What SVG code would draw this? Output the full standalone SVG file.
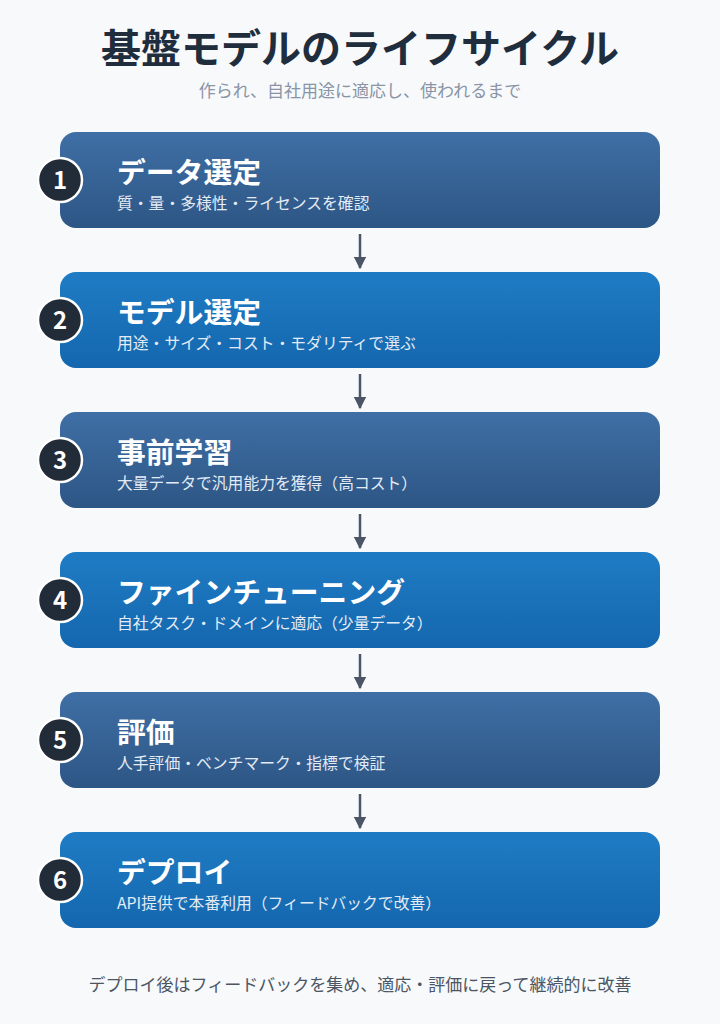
<svg xmlns="http://www.w3.org/2000/svg" width="720" height="1024" viewBox="0 0 720 1024">
<defs>
<linearGradient id="gA" x1="0" y1="0" x2="0" y2="1"><stop offset="0" stop-color="#3f6fa5"/><stop offset="1" stop-color="#2d5685"/></linearGradient>
<linearGradient id="gB" x1="0" y1="0" x2="0" y2="1"><stop offset="0" stop-color="#1f7cc4"/><stop offset="1" stop-color="#1467ae"/></linearGradient>
<marker id="ah" viewBox="0 0 10 10" refX="9" refY="5" markerWidth="5" markerHeight="5" orient="auto"><path d="M0,0 L10,5 L0,10 z" fill="#4a5568"/></marker>
</defs>
<style>
text{font-family:"Noto Sans CJK JP","Noto Sans",sans-serif}
.t{font-size:28.8px;font-weight:bold;fill:#fff}
.s{font-size:15.8px;fill:#e3ebf5}
.n{font-size:24px;font-weight:bold;fill:#fff;text-anchor:middle}
.c{fill:#222b38;stroke:#fff;stroke-width:2.5}
.a{stroke:#4a5568;stroke-width:2.5;fill:none;marker-end:url(#ah)}
</style>
<rect width="720" height="1024" fill="#f7f9fb"/>
<text x="360" y="63" text-anchor="middle" font-size="40" font-weight="bold" fill="#1f2d3d">基盤モデルのライフサイクル</text>
<text x="360" y="97" text-anchor="middle" font-size="17" fill="#8a94a6">作られ、自社用途に適応し、使われるまで</text>
<g id="connectors">
<path class="a" d="M360,234 V268"/><path class="a" d="M360,374 V408"/><path class="a" d="M360,514 V548"/><path class="a" d="M360,654 V688"/><path class="a" d="M360,794 V828"/>
</g>
<g id="n1"><rect x="60" y="132" width="600" height="96" rx="16" fill="url(#gA)"/><circle class="c" cx="60" cy="180" r="22"/><text class="n" x="60" y="189">1</text><text class="t" x="117" y="183">データ選定</text><text class="s" x="117" y="209">質・量・多様性・ライセンスを確認</text></g>
<g id="n2"><rect x="60" y="272" width="600" height="96" rx="16" fill="url(#gB)"/><circle class="c" cx="60" cy="320" r="22"/><text class="n" x="60" y="329">2</text><text class="t" x="117" y="323">モデル選定</text><text class="s" x="117" y="349">用途・サイズ・コスト・モダリティで選ぶ</text></g>
<g id="n3"><rect x="60" y="412" width="600" height="96" rx="16" fill="url(#gA)"/><circle class="c" cx="60" cy="460" r="22"/><text class="n" x="60" y="469">3</text><text class="t" x="117" y="463">事前学習</text><text class="s" x="117" y="489">大量データで汎用能力を獲得（高コスト）</text></g>
<g id="n4"><rect x="60" y="552" width="600" height="96" rx="16" fill="url(#gB)"/><circle class="c" cx="60" cy="600" r="22"/><text class="n" x="60" y="609">4</text><text class="t" x="117" y="603">ファインチューニング</text><text class="s" x="117" y="629">自社タスク・ドメインに適応（少量データ）</text></g>
<g id="n5"><rect x="60" y="692" width="600" height="96" rx="16" fill="url(#gA)"/><circle class="c" cx="60" cy="740" r="22"/><text class="n" x="60" y="749">5</text><text class="t" x="117" y="743">評価</text><text class="s" x="117" y="769">人手評価・ベンチマーク・指標で検証</text></g>
<g id="n6"><rect x="60" y="832" width="600" height="96" rx="16" fill="url(#gB)"/><circle class="c" cx="60" cy="880" r="22"/><text class="n" x="60" y="889">6</text><text class="t" x="117" y="883">デプロイ</text><text class="s" x="117" y="909">API提供で本番利用（フィードバックで改善）</text></g>
<text x="360" y="991" text-anchor="middle" font-size="17" fill="#4b5563">デプロイ後はフィードバックを集め、適応・評価に戻って継続的に改善</text>
</svg>
